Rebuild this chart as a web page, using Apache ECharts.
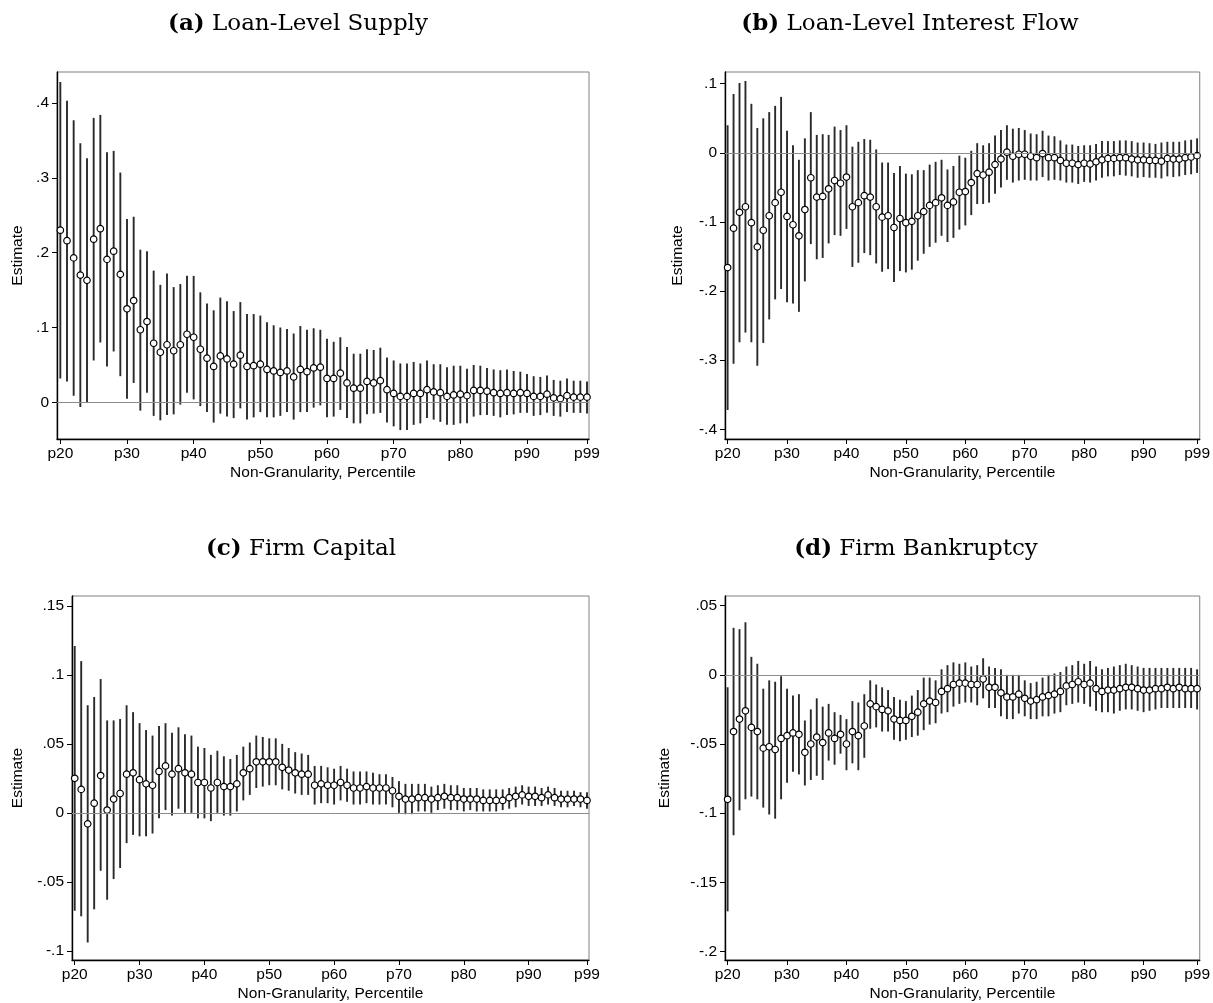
<!DOCTYPE html>
<html><head><meta charset="utf-8">
<script src="https://cdn.jsdelivr.net/npm/echarts@6/dist/echarts.min.js"></script>
<style>html,body{margin:0;padding:0;background:#fff}#c{width:1213px;height:1003px}</style>
</head><body><div id="c"></div><script>
const percentiles = [20,21,22,23,24,25,26,27,28,29,30,31,32,33,34,35,36,37,38,39,40,41,42,43,44,45,46,47,48,49,50,51,52,53,54,55,56,57,58,59,60,61,62,63,64,65,66,67,68,69,70,71,72,73,74,75,76,77,78,79,80,81,82,83,84,85,86,87,88,89,90,91,92,93,94,95,96,97,98,99];
const xTickValues = [20,30,40,50,60,70,80,90,99];

// (a) Loan-Level Supply
const supplyEst = [.230,.216,.193,.170,.163,.218,.232,.191,.202,.171,
.125,.136,.097,.108,.079,.067,.077,.069,.077,.091,
.087,.071,.059,.048,.062,.058,.051,.063,.048,.049,
.051,.044,.042,.040,.042,.034,.044,.041,.046,.047,
.032,.032,.039,.026,.019,.019,.028,.026,.029,.017,
.012,.008,.008,.012,.012,.017,.014,.013,.008,.010,
.011,.009,.016,.016,.015,.013,.012,.013,.012,.013,
.012,.008,.008,.011,.006,.005,.009,.007,.007,.007];
const supplyHi = [.428,.403,.377,.346,.326,.380,.384,.334,.336,.307,
.245,.248,.204,.202,.176,.157,.172,.154,.158,.169,
.169,.147,.132,.123,.140,.135,.122,.134,.118,.118,
.116,.107,.103,.100,.098,.092,.102,.097,.099,.097,
.085,.081,.087,.074,.065,.065,.071,.070,.073,.060,
.056,.052,.052,.054,.052,.056,.051,.051,.047,.049,
.049,.045,.050,.049,.046,.044,.043,.044,.042,.041,
.038,.035,.034,.036,.030,.029,.032,.029,.029,.028];
const supplyLo = [.032,.028,.009,-.006,.000,.056,.080,.048,.068,.035,
.005,.026,-.011,.013,-.018,-.024,-.017,-.016,-.003,.013,
.004,-.005,-.013,-.027,-.015,-.019,-.021,-.008,-.023,-.020,
-.013,-.020,-.020,-.018,-.013,-.023,-.013,-.013,-.007,-.004,
-.020,-.019,-.010,-.021,-.028,-.028,-.016,-.015,-.014,-.027,
-.032,-.037,-.037,-.030,-.028,-.021,-.023,-.026,-.030,-.030,
-.028,-.028,-.019,-.017,-.017,-.018,-.020,-.017,-.016,-.014,
-.014,-.018,-.017,-.014,-.018,-.019,-.013,-.014,-.014,-.015];
const supplyTicks = [0,.1,.2,.3,.4];

// (b) Loan-Level Interest Flow
const interestEst = [-.166,-.109,-.086,-.078,-.101,-.136,-.112,-.091,-.072,-.057,
-.092,-.104,-.120,-.082,-.036,-.064,-.063,-.052,-.040,-.044,
-.035,-.078,-.072,-.062,-.064,-.078,-.093,-.091,-.108,-.095,
-.101,-.099,-.091,-.085,-.076,-.072,-.065,-.076,-.071,-.057,
-.056,-.043,-.030,-.032,-.028,-.017,-.009,.001,-.005,-.002,
-.002,-.005,-.007,-.001,-.007,-.007,-.011,-.015,-.015,-.017,
-.015,-.016,-.013,-.010,-.008,-.008,-.007,-.007,-.009,-.010,
-.010,-.011,-.011,-.012,-.008,-.009,-.009,-.007,-.006,-.004];
const interestHi = [.040,.085,.101,.104,.071,.036,.050,.059,.068,.081,
.032,.011,-.010,.021,.059,.026,.027,.026,.038,.033,
.040,.009,.016,.020,.019,.005,-.014,-.014,-.029,-.019,
-.030,-.031,-.025,-.025,-.017,-.013,-.010,-.024,-.019,-.004,
-.007,.003,.014,.011,.014,.025,.033,.040,.035,.036,
.033,.028,.027,.032,.025,.024,.018,.012,.012,.010,
.011,.011,.013,.017,.017,.017,.018,.018,.017,.015,
.015,.014,.013,.015,.016,.016,.016,.018,.019,.021];
const interestLo = [-.372,-.305,-.274,-.260,-.274,-.308,-.275,-.241,-.212,-.197,
-.216,-.218,-.230,-.186,-.132,-.154,-.152,-.131,-.119,-.120,
-.110,-.165,-.159,-.145,-.148,-.160,-.172,-.168,-.187,-.171,
-.173,-.169,-.156,-.146,-.136,-.130,-.120,-.129,-.123,-.111,
-.105,-.090,-.074,-.074,-.072,-.059,-.050,-.039,-.043,-.040,
-.039,-.040,-.040,-.035,-.040,-.039,-.040,-.043,-.043,-.045,
-.042,-.043,-.040,-.036,-.034,-.034,-.032,-.033,-.034,-.036,
-.035,-.036,-.036,-.037,-.034,-.035,-.034,-.032,-.031,-.029];
const interestTicks = [-.4,-.3,-.2,-.1,0,.1];

// (c) Firm Capital
const capitalEst = [.025,.017,-.008,.007,.027,.002,.010,.014,.028,.029,
.024,.021,.020,.030,.034,.028,.032,.029,.028,.022,
.022,.018,.022,.019,.019,.021,.029,.032,.037,.037,
.037,.037,.033,.031,.029,.028,.028,.020,.021,.020,
.020,.022,.020,.018,.018,.019,.018,.018,.018,.016,
.012,.010,.010,.011,.011,.010,.011,.012,.011,.011,
.010,.010,.010,.009,.009,.009,.009,.011,.012,.013,
.012,.012,.011,.013,.011,.010,.010,.010,.010,.009];
const capitalHi = [.121,.110,.078,.084,.097,.067,.067,.068,.078,.073,
.065,.060,.056,.063,.065,.058,.062,.057,.056,.048,
.047,.042,.045,.041,.039,.042,.048,.051,.056,.055,
.054,.054,.050,.047,.044,.043,.042,.034,.034,.033,
.032,.034,.032,.030,.030,.030,.029,.028,.028,.026,
.023,.021,.021,.021,.021,.019,.020,.021,.020,.020,
.018,.018,.018,.017,.017,.017,.017,.018,.019,.020,
.019,.019,.018,.019,.018,.016,.016,.016,.015,.015];
const capitalLo = [-.071,-.075,-.094,-.070,-.042,-.063,-.048,-.040,-.022,-.016,
-.017,-.017,-.015,-.004,.002,-.002,.003,.000,.000,-.004,
-.004,-.006,.000,-.002,-.002,.001,.009,.013,.018,.019,
.020,.020,.017,.016,.014,.013,.013,.006,.007,.007,
.006,.009,.008,.006,.006,.007,.006,.006,.006,.004,
.000,-.001,-.001,.001,.001,.000,.002,.003,.002,.002,
.001,.002,.001,.001,.001,.001,.002,.003,.004,.006,
.005,.005,.005,.006,.005,.004,.004,.005,.004,.003];
const capitalTicks = [-.1,-.05,0,.05,.1,.15];

// (d) Firm Bankruptcy
const bankruptcyEst = [-.090,-.041,-.032,-.026,-.038,-.041,-.053,-.052,-.054,-.046,
-.044,-.042,-.043,-.056,-.050,-.045,-.049,-.042,-.046,-.043,
-.050,-.041,-.044,-.037,-.021,-.023,-.025,-.026,-.032,-.033,
-.033,-.030,-.027,-.021,-.019,-.020,-.012,-.010,-.007,-.006,
-.006,-.007,-.007,-.003,-.009,-.009,-.013,-.016,-.016,-.014,
-.017,-.019,-.018,-.016,-.015,-.014,-.012,-.008,-.007,-.005,
-.007,-.006,-.010,-.012,-.011,-.011,-.010,-.009,-.009,-.010,
-.011,-.011,-.010,-.010,-.009,-.010,-.009,-.010,-.010,-.010];
const bankruptcyHi = [-.009,.034,.033,.038,.013,.008,-.010,-.004,-.005,-.001,
-.010,-.015,-.014,-.033,-.025,-.017,-.023,-.021,-.027,-.029,
-.032,-.019,-.020,-.014,-.004,-.007,-.009,-.011,-.016,-.018,
-.019,-.015,-.011,-.002,-.002,-.004,.004,.007,.009,.008,
.009,.006,.007,.012,.006,.005,.004,.000,.000,.000,
-.004,-.006,-.005,-.002,.000,.001,.002,.006,.007,.010,
.008,.010,.006,.004,.005,.006,.007,.008,.007,.006,
.005,.005,.005,.005,.005,.005,.005,.005,.005,.004];
const bankruptcyLo = [-.171,-.116,-.098,-.090,-.088,-.090,-.096,-.101,-.104,-.090,
-.078,-.070,-.072,-.080,-.076,-.073,-.076,-.062,-.065,-.057,
-.069,-.064,-.069,-.060,-.039,-.038,-.041,-.041,-.047,-.048,
-.047,-.045,-.044,-.040,-.036,-.035,-.028,-.027,-.023,-.021,
-.020,-.020,-.022,-.017,-.024,-.024,-.030,-.032,-.032,-.028,
-.030,-.032,-.032,-.030,-.030,-.028,-.027,-.022,-.021,-.020,
-.021,-.023,-.026,-.027,-.027,-.028,-.026,-.025,-.025,-.026,
-.027,-.026,-.025,-.024,-.024,-.024,-.024,-.024,-.024,-.025];
const bankruptcyTicks = [-.2,-.15,-.1,-.05,0,.05];

const panelTags = ['(a)','(b)','(c)','(d)'];
const panelNames = ['Loan-Level Supply','Loan-Level Interest Flow','Firm Capital','Firm Bankruptcy'];
const xAxisTitle = 'Non-Granularity, Percentile';
const yAxisTitle = 'Estimate';

const panels = [
  {est: supplyEst, lo: supplyLo, hi: supplyHi, ticks: supplyTicks, ymin: -0.0489, ymax: 0.4413,
   grid: {left: 57, top: 72, width: 532, height: 367}, xmin: 19.5, xmax: 99.3, nameGap: 31, tx: 298, ty: 13},
  {est: interestEst, lo: interestLo, hi: interestHi, ticks: interestTicks, ymin: -0.414, ymax: 0.117,
   grid: {left: 725, top: 72, width: 476, height: 367}, xmin: 19.56, xmax: 99.45, nameGap: 39, tx: 910, ty: 13},
  {est: capitalEst, lo: capitalLo, hi: capitalHi, ticks: capitalTicks, ymin: -0.1067, ymax: 0.1572,
   grid: {left: 72, top: 596, width: 517, height: 367}, xmin: 19.58, xmax: 99.31, nameGap: 46, tx: 301, ty: 538},
  {est: bankruptcyEst, lo: bankruptcyLo, hi: bankruptcyHi, ticks: bankruptcyTicks, ymin: -0.2062, ymax: 0.057,
   grid: {left: 725, top: 596, width: 476, height: 367}, xmin: 19.56, xmax: 99.45, nameGap: 52, tx: 916, ty: 538}
];

const sans = 'Liberation Sans, Arial, sans-serif';
const serif = 'DejaVu Serif, serif';
const labelSize = 15.5;
function fmtY(v) {
  if (Math.abs(v) < 1e-9) return '0';
  return String(+v.toFixed(3)).replace('0.', '.');
}

const option = {
  animation: false,
  backgroundColor: '#fff',
  title: panels.map((p, i) => ({
    text: '{b|' + panelTags[i] + '} ' + panelNames[i],
    left: p.tx, top: p.ty, textAlign: 'center', padding: 0,
    textStyle: {fontFamily: serif, fontSize: 23, fontWeight: 'normal', color: '#000',
      rich: {b: {fontFamily: serif, fontSize: 23, fontWeight: 'bold', color: '#000'}}}
  })),
  grid: panels.map(p => Object.assign({show: true, borderColor: '#808080', borderWidth: 1, backgroundColor: 'transparent'}, p.grid)),
  xAxis: panels.map((p, i) => ({
    type: 'value', gridIndex: i, min: p.xmin, max: p.xmax,
    name: xAxisTitle, nameLocation: 'middle', nameGap: 26,
    nameTextStyle: {fontFamily: sans, fontSize: labelSize, color: '#000'},
    axisLine: {show: true, onZero: false, lineStyle: {color: '#000', width: 1.4}},
    axisTick: {show: true, customValues: xTickValues, length: 5, lineStyle: {color: '#000', width: 1}},
    axisLabel: {customValues: xTickValues, formatter: v => 'p' + v, fontFamily: sans, fontSize: labelSize, color: '#000', margin: 7},
    splitLine: {show: false}
  })),
  yAxis: panels.map((p, i) => ({
    type: 'value', gridIndex: i, min: p.ymin, max: p.ymax,
    name: yAxisTitle, nameLocation: 'middle', nameRotate: 90, nameGap: p.nameGap,
    nameTextStyle: {fontFamily: sans, fontSize: labelSize, color: '#000'},
    axisLine: {show: true, onZero: false, lineStyle: {color: '#000', width: 1.4}},
    axisTick: {show: true, customValues: p.ticks, length: 5, lineStyle: {color: '#000', width: 1}},
    axisLabel: {customValues: p.ticks, formatter: fmtY, fontFamily: sans, fontSize: labelSize, color: '#000', margin: 8},
    splitLine: {show: false}
  })),
  series: []
};

panels.forEach((p, i) => {
  option.series.push({
    type: 'scatter', xAxisIndex: i, yAxisIndex: i, data: [], z: 1, silent: true,
    markLine: {silent: true, symbol: 'none', label: {show: false},
      lineStyle: {color: '#8c8c8c', width: 1, type: 'solid'},
      emphasis: {disabled: true},
      data: [{yAxis: 0}]}
  });
  option.series.push({
    type: 'custom', xAxisIndex: i, yAxisIndex: i, z: 2, silent: true,
    data: percentiles.map((x, j) => [x, p.lo[j], p.hi[j]]),
    encode: {x: 0, y: [1, 2]},
    renderItem: (params, api) => {
      const x = api.value(0);
      const a = api.coord([x, api.value(1)]);
      const b = api.coord([x, api.value(2)]);
      return {type: 'line', shape: {x1: a[0], y1: a[1], x2: b[0], y2: b[1]},
        style: {stroke: '#2a2a2a', lineWidth: 1.9}};
    }
  });
  option.series.push({
    type: 'scatter', xAxisIndex: i, yAxisIndex: i, z: 3, silent: true,
    data: percentiles.map((x, j) => [x, p.est[j]]),
    symbol: 'circle', symbolSize: 6.5,
    itemStyle: {color: '#fff', borderColor: '#000', borderWidth: 1.2, opacity: 1},
    emphasis: {disabled: true}
  });
});

const chart = echarts.init(document.getElementById('c'), null, {renderer: 'canvas'});
chart.setOption(option);
</script></body></html>
